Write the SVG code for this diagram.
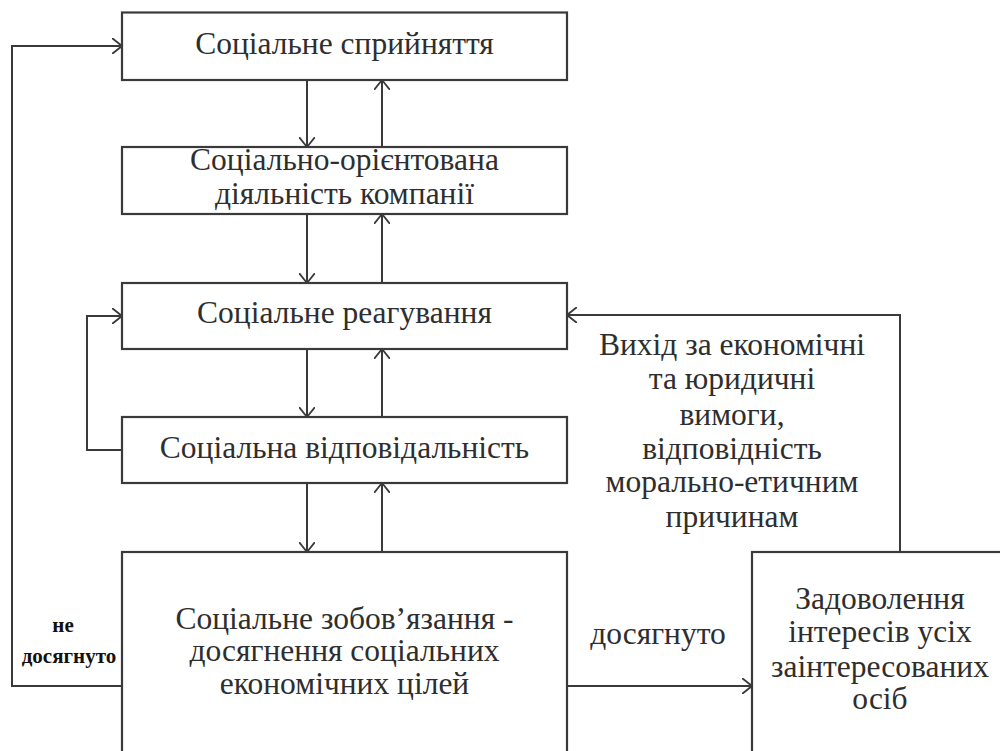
<svg xmlns="http://www.w3.org/2000/svg" width="1000" height="751" viewBox="0 0 1000 751">
<defs>
<marker id="arr" viewBox="0 0 10 16" refX="10" refY="8" markerWidth="10" markerHeight="16" markerUnits="userSpaceOnUse" orient="auto">
<path d="M0,0 L10,8 L0,16" fill="none" stroke="#3a3a3a" stroke-width="1.8"/>
</marker>
<style>
.box{fill:#fff;stroke:#3a3a3a;stroke-width:2.2}
.ln{fill:none;stroke:#3a3a3a;stroke-width:2}
.t{font-family:"Liberation Serif","Times New Roman",serif;font-size:31.5px;fill:#2e2e2e;text-anchor:middle}
.s{font-family:"Liberation Serif","Times New Roman",serif;font-size:21px;font-weight:bold;fill:#111;text-anchor:middle}
</style>
</defs>
<rect width="1000" height="751" fill="#fff"/>
<g id="connectors">
<path class="ln" d="M307,80 V147" marker-end="url(#arr)"/>
<path class="ln" d="M382,147 V80" marker-end="url(#arr)"/>
<path class="ln" d="M307,214 V283" marker-end="url(#arr)"/>
<path class="ln" d="M382,283 V214" marker-end="url(#arr)"/>
<path class="ln" d="M307,349 V417" marker-end="url(#arr)"/>
<path class="ln" d="M382,417 V349" marker-end="url(#arr)"/>
<path class="ln" d="M307,483 V552" marker-end="url(#arr)"/>
<path class="ln" d="M382,552 V483" marker-end="url(#arr)"/>
<path class="ln" d="M122,450 H87 V316 H122" marker-end="url(#arr)"/>
<path class="ln" d="M122,686 H12 V46 H122" marker-end="url(#arr)"/>
<path class="ln" d="M900,552 V315 H567" marker-end="url(#arr)"/>
<path class="ln" d="M567,686 H752" marker-end="url(#arr)"/>
<text class="s" x="63" y="632">не</text>
<text class="s" x="69" y="663">досягнуто</text>
<text class="t" x="658" y="644">досягнуто</text>
<text class="t" x="732" y="355">Вихід за економічні</text>
<text class="t" x="732" y="389">та юридичні</text>
<text class="t" x="732" y="425">вимоги,</text>
<text class="t" x="732" y="459">відповідність</text>
<text class="t" x="732" y="492">морально-етичним</text>
<text class="t" x="732" y="527">причинам</text>
</g>
<g id="n1">
<rect class="box" x="122" y="12.5" width="445" height="67.5"/>
<text class="t" x="344.5" y="54">Соціальне сприйняття</text>
</g>
<g id="n2">
<rect class="box" x="122" y="147" width="445" height="67"/>
<text class="t" x="344.5" y="170">Соціально-орієнтована</text>
<text class="t" x="344.5" y="204">діяльність компанії</text>
</g>
<g id="n3">
<rect class="box" x="122" y="283" width="445" height="66"/>
<text class="t" x="344.5" y="323">Соціальне реагування</text>
</g>
<g id="n4">
<rect class="box" x="122" y="417" width="445" height="66"/>
<text class="t" x="344.5" y="458">Соціальна відповідальність</text>
</g>
<g id="n5">
<rect class="box" x="122" y="552" width="445" height="220"/>
<text class="t" x="344.5" y="629">Соціальне зобов’язання -</text>
<text class="t" x="344.5" y="661">досягнення соціальних</text>
<text class="t" x="344.5" y="694">економічних цілей</text>
</g>
<g id="n6">
<rect class="box" x="752" y="552" width="270" height="220"/>
<text class="t" x="880" y="609">Задоволення</text>
<text class="t" x="880" y="642">інтересів усіх</text>
<text class="t" x="880" y="677">заінтересованих</text>
<text class="t" x="880" y="709">осіб</text>
</g>
</svg>
